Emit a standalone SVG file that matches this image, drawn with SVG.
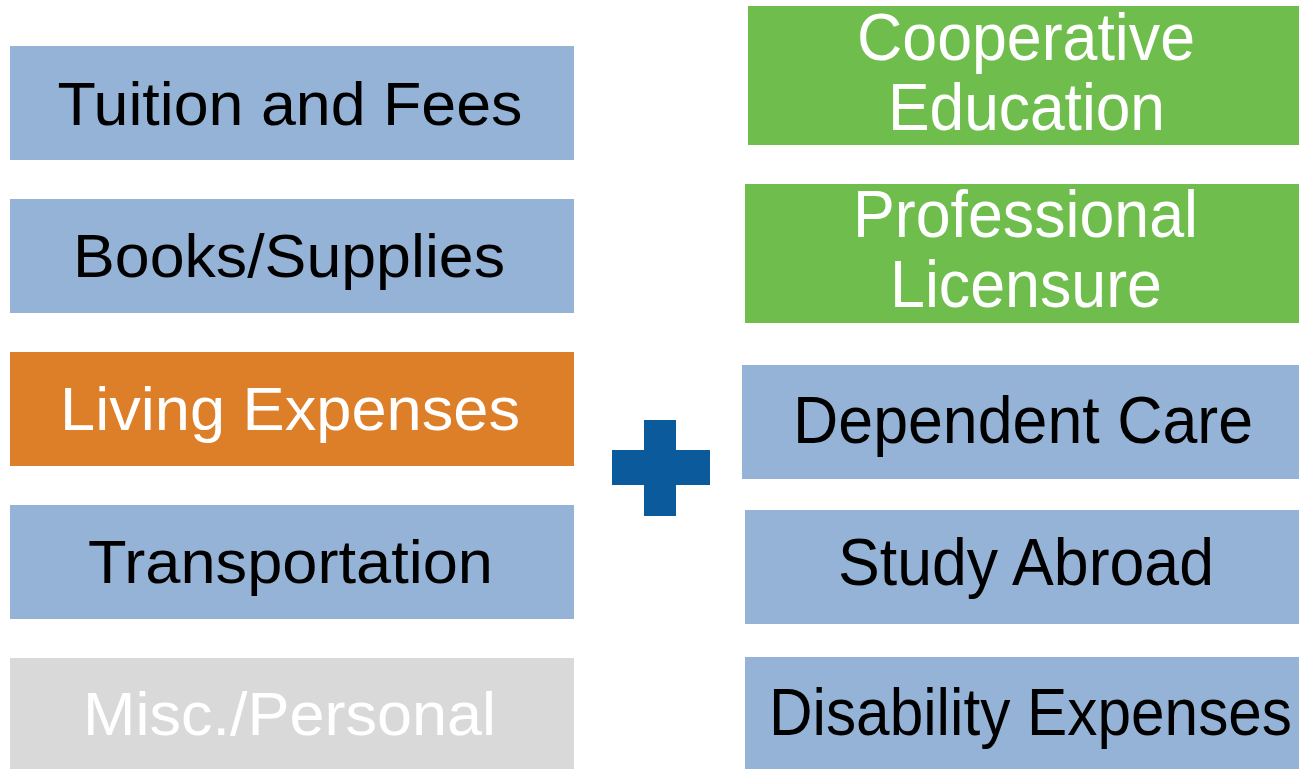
<svg xmlns="http://www.w3.org/2000/svg" width="1299" height="769" viewBox="0 0 1299 769">
<style>
.t{font-family:"Liberation Sans",Arial,sans-serif;text-anchor:middle}
.l{font-size:62px}
.r{font-size:67px}
.blue{fill:#95b3d7}
.orange{fill:#dd7e28}
.green{fill:#6fbe4d}
.gray{fill:#d9d9d9}
.dk{fill:#000}
.wh{fill:#fff}
</style>
<rect width="1299" height="769" fill="#fff"/>
<g id="tuition"><rect class="blue" x="10" y="46" width="564" height="114"/><text class="t l dk" x="290" y="125" textLength="465" lengthAdjust="spacingAndGlyphs">Tuition and Fees</text></g>
<g id="books"><rect class="blue" x="10" y="199" width="564" height="114"/><text class="t l dk" x="289" y="277" textLength="432" lengthAdjust="spacingAndGlyphs">Books/Supplies</text></g>
<g id="living"><rect class="orange" x="10" y="352" width="564" height="114"/><text class="t l wh" x="290" y="430" textLength="460" lengthAdjust="spacingAndGlyphs">Living Expenses</text></g>
<g id="transportation"><rect class="blue" x="10" y="505" width="564" height="114"/><text class="t l dk" x="290.5" y="583" textLength="405" lengthAdjust="spacingAndGlyphs">Transportation</text></g>
<g id="misc"><rect class="gray" x="10" y="658" width="564" height="111"/><text class="t l wh" x="289.5" y="735" textLength="413" lengthAdjust="spacingAndGlyphs">Misc./Personal</text></g>
<g id="plus"><rect x="644" y="420" width="32" height="96" fill="#0b5a9b"/><rect x="612" y="450" width="98" height="35" fill="#0b5a9b"/></g>
<g id="coop"><rect class="green" x="748" y="6" width="551" height="139"/><text class="t r wh" x="1026" y="60" textLength="338" lengthAdjust="spacingAndGlyphs">Cooperative</text><text class="t r wh" x="1026.5" y="130" textLength="277" lengthAdjust="spacingAndGlyphs">Education</text></g>
<g id="licensure"><rect class="green" x="745" y="184" width="554" height="139"/><text class="t r wh" x="1025.5" y="237" textLength="345" lengthAdjust="spacingAndGlyphs">Professional</text><text class="t r wh" x="1026" y="307" textLength="272" lengthAdjust="spacingAndGlyphs">Licensure</text></g>
<g id="dependent"><rect class="blue" x="742" y="365" width="557" height="114"/><text class="t r dk" x="1023" y="443" textLength="460" lengthAdjust="spacingAndGlyphs">Dependent Care</text></g>
<g id="study"><rect class="blue" x="745" y="510" width="554" height="114"/><text class="t r dk" x="1026" y="585" textLength="376" lengthAdjust="spacingAndGlyphs">Study Abroad</text></g>
<g id="disability"><rect class="blue" x="745" y="657" width="554" height="112"/><text class="t r dk" x="1030.5" y="735" textLength="523" lengthAdjust="spacingAndGlyphs">Disability Expenses</text></g>
<g id="connectors"></g>
</svg>
